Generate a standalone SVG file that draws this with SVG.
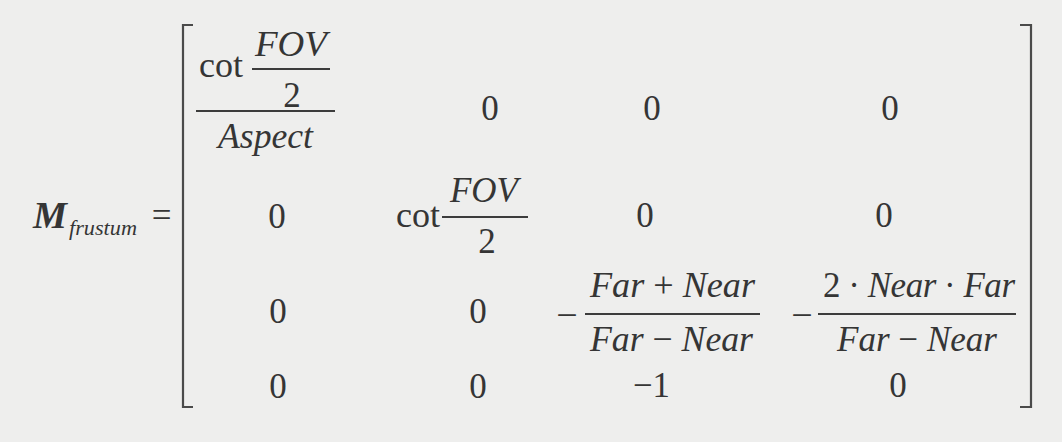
<svg xmlns="http://www.w3.org/2000/svg" width="1062" height="442" viewBox="0 0 1062 442">
<style>
  text { font-family: "Liberation Serif", "Times New Roman", serif; fill: #353535; font-size: 35px; }
  .i { font-style: italic; }
  .u { font-style: normal; }
  .c { text-anchor: middle; }
  .m { font-size: 38px; text-anchor: middle; }
  .rule { stroke: #3c3c3c; stroke-width: 1.8; fill: none; }
  .br { stroke: #4a4a4a; stroke-width: 2.2; fill: none; }
</style>
<rect width="1062" height="442" fill="#eeeeed"/>

<g id="lhs">
  <text x="33" y="228" font-weight="bold" class="i" style="font-size:38px" textLength="34" lengthAdjust="spacingAndGlyphs">M</text>
  <text x="69" y="235" class="i" style="font-size:22px" textLength="68" lengthAdjust="spacingAndGlyphs">frustum</text>
  <text x="161.5" y="227" class="c">=</text>
</g>

<g id="brackets">
  <path class="br" d="M193,25 H183 V407 H193"/>
  <path class="br" d="M1020,25 H1031 V407 H1020"/>
</g>

<g id="row1">
  <text x="199" y="77" textLength="44" lengthAdjust="spacingAndGlyphs">cot</text>
  <text x="255" y="56" class="i" textLength="72" lengthAdjust="spacingAndGlyphs">FOV</text>
  <line class="rule" x1="252" y1="69" x2="330" y2="69"/>
  <text x="292" y="107" class="c">2</text>
  <line class="rule" x1="196" y1="111" x2="335" y2="111"/>
  <text x="218" y="148" class="i" textLength="95" lengthAdjust="spacingAndGlyphs">Aspect</text>
  <text x="490" y="120" class="c">0</text>
  <text x="652" y="120" class="c">0</text>
  <text x="890" y="120" class="c">0</text>
</g>

<g id="row2">
  <text x="277" y="228" class="c">0</text>
  <text x="396" y="227" textLength="44" lengthAdjust="spacingAndGlyphs">cot</text>
  <text x="450" y="202" class="i" textLength="68" lengthAdjust="spacingAndGlyphs">FOV</text>
  <line class="rule" x1="442" y1="217" x2="528" y2="217"/>
  <text x="487" y="253" class="c">2</text>
  <text x="645" y="227" class="c">0</text>
  <text x="884" y="227" class="c">0</text>
</g>

<g id="row3">
  <text x="278" y="323" class="c">0</text>
  <text x="478" y="323" class="c">0</text>
  <text x="567" y="328" class="m">−</text>
  <text x="590" y="297" textLength="165" lengthAdjust="spacingAndGlyphs"><tspan class="i">Far</tspan><tspan class="u"> + </tspan><tspan class="i">Near</tspan></text>
  <line class="rule" x1="585" y1="314" x2="760" y2="314"/>
  <text x="590" y="351" textLength="163" lengthAdjust="spacingAndGlyphs"><tspan class="i">Far</tspan><tspan class="u"> − </tspan><tspan class="i">Near</tspan></text>
  <text x="802" y="328" class="m">−</text>
  <text x="823" y="297" textLength="192" lengthAdjust="spacing"><tspan class="u">2 · </tspan><tspan class="i">Near</tspan><tspan class="u"> · </tspan><tspan class="i">Far</tspan></text>
  <line class="rule" x1="818" y1="314" x2="1016" y2="314"/>
  <text x="837" y="351" textLength="160" lengthAdjust="spacingAndGlyphs"><tspan class="i">Far</tspan><tspan class="u"> − </tspan><tspan class="i">Near</tspan></text>
</g>

<g id="row4">
  <text x="278" y="398" class="c">0</text>
  <text x="478" y="398" class="c">0</text>
  <text x="633" y="397" textLength="37" lengthAdjust="spacingAndGlyphs">−1</text>
  <text x="898" y="397" class="c">0</text>
</g>
</svg>
